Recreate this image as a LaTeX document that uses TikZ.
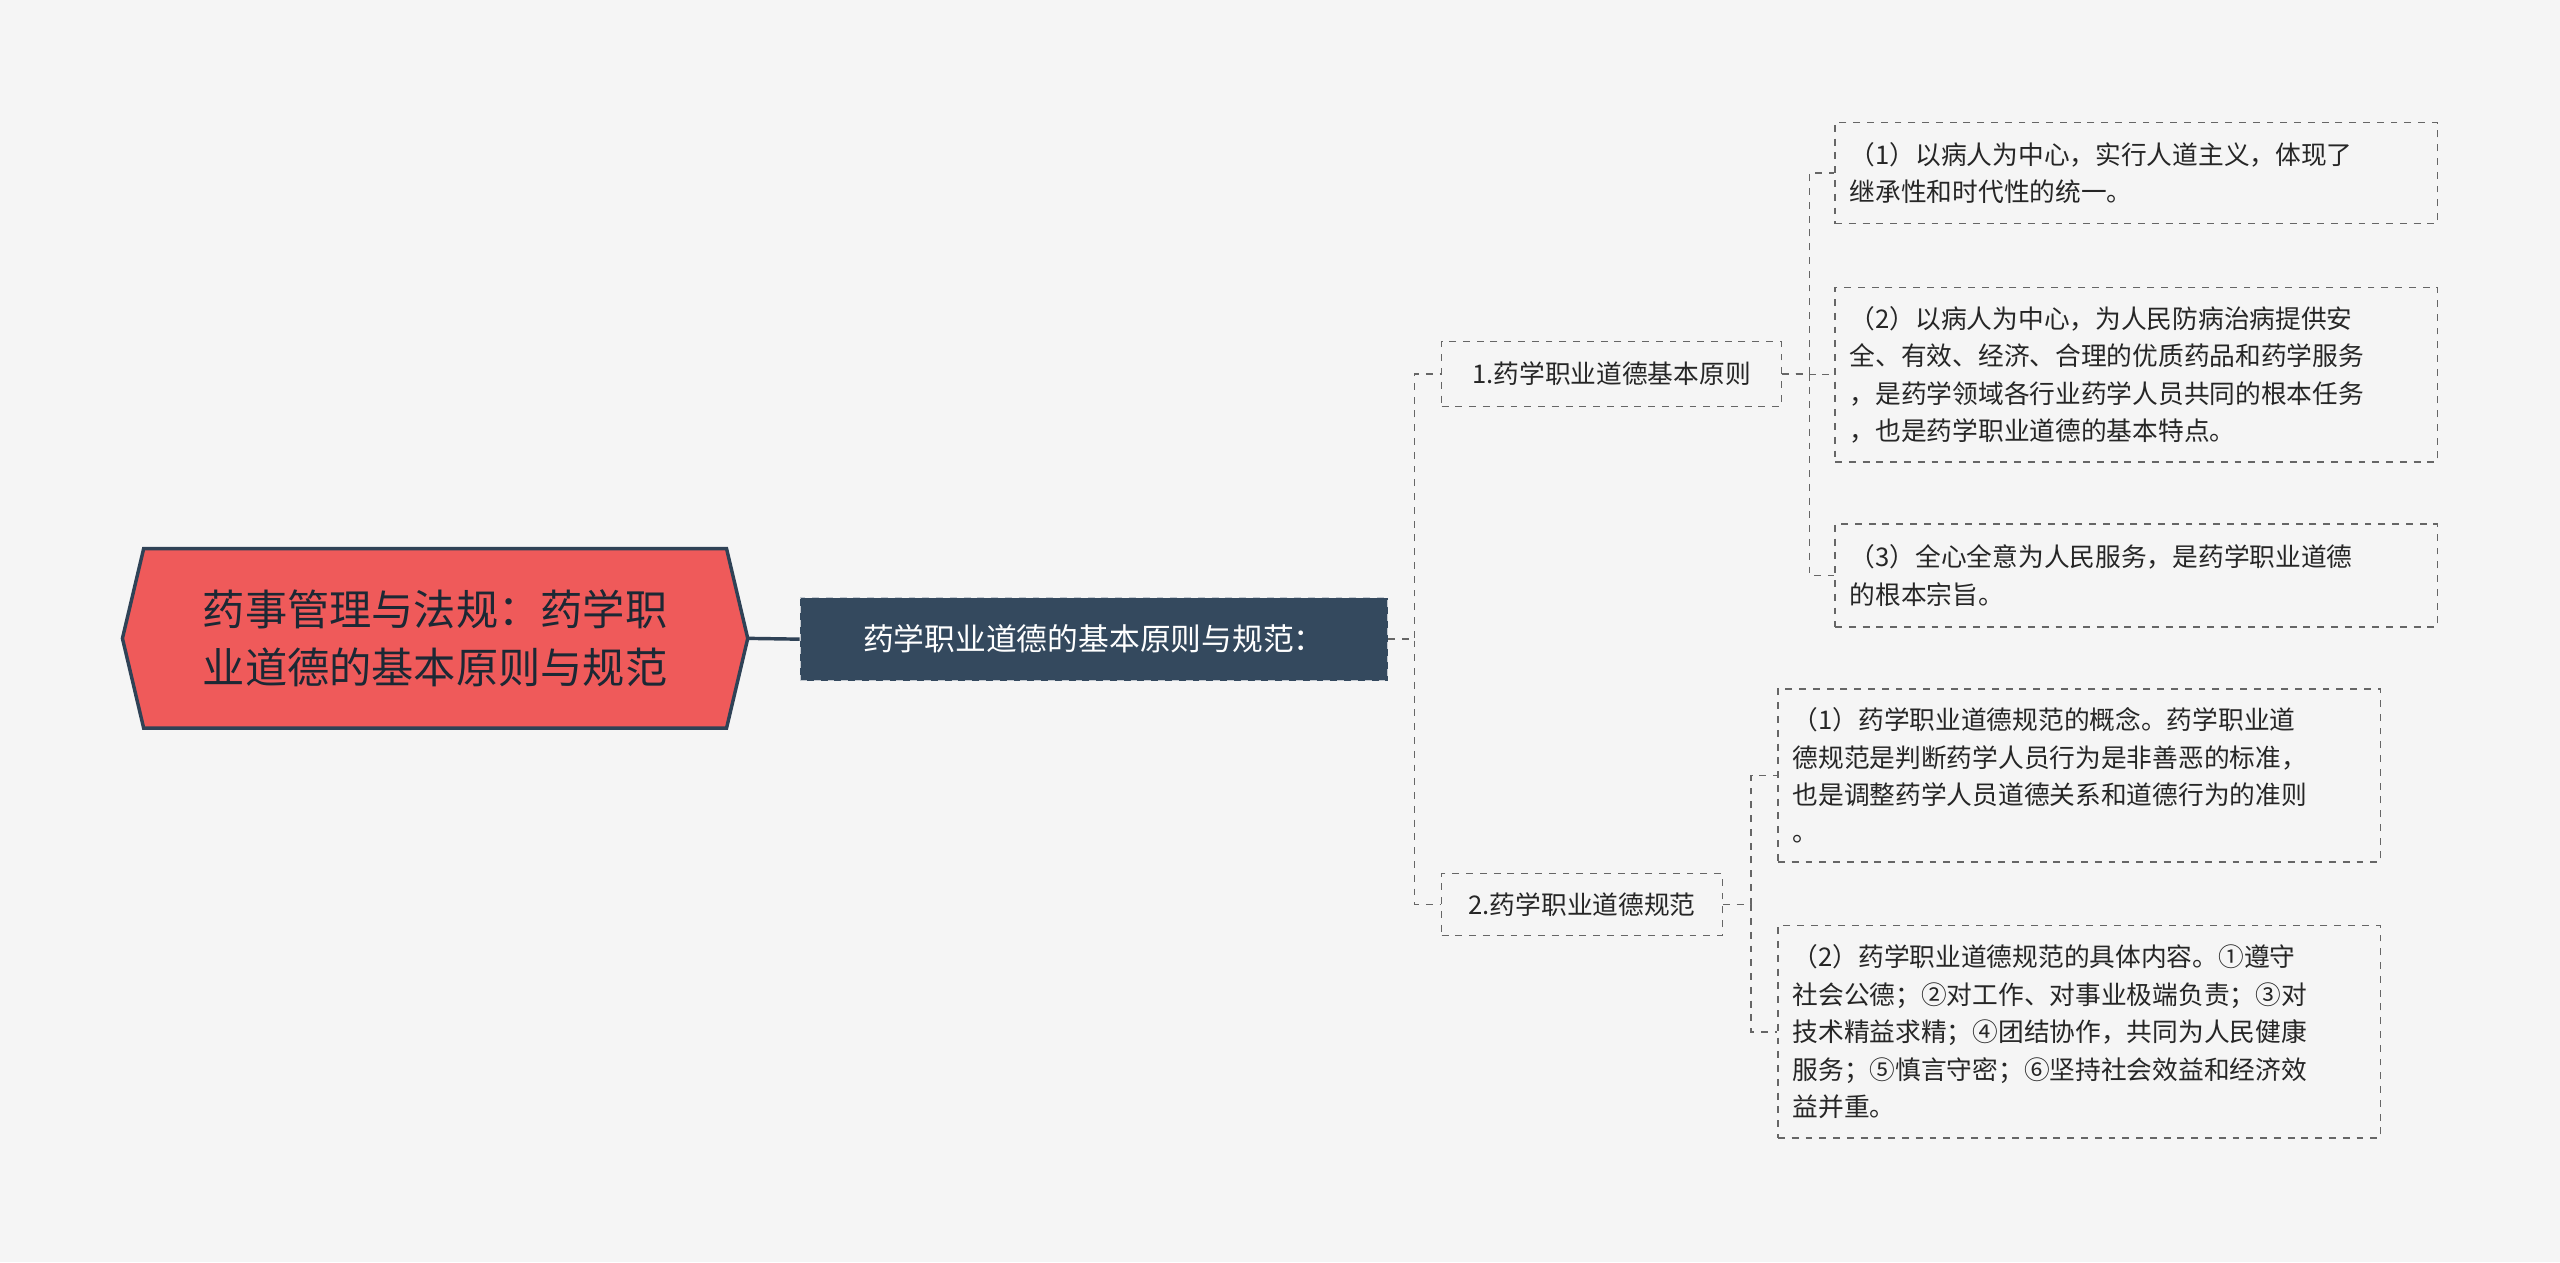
\documentclass[tikz,border=0pt]{standalone}
\usepackage{fontspec}
\setmainfont{Noto Sans CJK SC}
\definecolor{bg}{HTML}{F5F5F5}
\definecolor{rootred}{HTML}{EF5A5A}
\definecolor{navy}{HTML}{2F4256}
\definecolor{mainfill}{HTML}{34495E}
\definecolor{linegray}{HTML}{666666}
\begin{document}
\begin{tikzpicture}[x=0.025cm,y=-0.025cm,
  leaf/.style={draw=linegray,dashed,line width=0.6pt,fill=bg,minimum width=#1*0.025cm,text width=#1*0.025cm-0.45cm,align=left,inner sep=0pt,font=\fontsize{11.2}{16.3}\selectfont,text=black!85},
  branch/.style={draw=linegray,dashed,line width=0.6pt,fill=bg,inner sep=0pt,font=\fontsize{11.2}{14}\selectfont,text=black!85},
  conn/.style={draw=linegray,dashed,line width=0.6pt}]
\fill[bg] (0,0) rectangle (1568,773);
\useasboundingbox (0,0) rectangle (1568,773);
% root
\draw[fill=rootred,draw=navy,line width=1.5pt] (75,391)--(88,336)--(445,336)--(458,391)--(445,446)--(88,446)--cycle;
\node[align=center,font=\fontsize{18.4}{25.5}\selectfont,text=navy!60!black] (root) at (266.5,391) {药事管理与法规：药学职\\业道德的基本原则与规范};
\coordinate (rootE) at (458,391);
% main
\node[fill=mainfill,draw=white!70!mainfill,dashed,minimum width=360*0.025cm,minimum height=51*0.025cm,inner sep=0pt,text=white,font=\fontsize{13.4}{16}\selectfont] (main) at (670,391.5) {药学职业道德的基本原则与规范：};
\draw[navy,line width=1.5pt] (rootE) -- (main.west);
% branches
\node[branch,minimum width=208*0.025cm,minimum height=40*0.025cm] (b1) at (987,229) {1.药学职业道德基本原则};
\node[branch,minimum width=172*0.025cm,minimum height=38*0.025cm] (b2) at (969,554) {2.药学职业道德规范};
\draw[conn] (main.east) -- ++(16,0) |- (b1.west);
\draw[conn] (main.east) -- ++(16,0) |- (b2.west);
% leaves
\node[leaf=369,minimum height=62*0.025cm] (l1) at (1308.5,106) {（1）以病人为中心，实行人道主义，体现了\\继承性和时代性的统一。};
\node[leaf=369,minimum height=107*0.025cm] (l2) at (1308.5,229.5) {（2）以病人为中心，为人民防病治病提供安\\全、有效、经济、合理的优质药品和药学服务\\，是药学领域各行业药学人员共同的根本任务\\，也是药学职业道德的基本特点。};
\node[leaf=369,minimum height=63*0.025cm] (l3) at (1308.5,352.5) {（3）全心全意为人民服务，是药学职业道德\\的根本宗旨。};
\node[leaf=369,minimum height=106*0.025cm] (l4) at (1273.5,475) {（1）药学职业道德规范的概念。药学职业道\\德规范是判断药学人员行为是非善恶的标准，\\也是调整药学人员道德关系和道德行为的准则\\。};
\node[leaf=369,minimum height=130*0.025cm] (l5) at (1273.5,632) {（2）药学职业道德规范的具体内容。①遵守\\社会公德；②对工作、对事业极端负责；③对\\技术精益求精；④团结协作，共同为人民健康\\服务；⑤慎言守密；⑥坚持社会效益和经济效\\益并重。};
\foreach \l in {l1,l2,l3} \draw[conn] (b1.east) -- ++(17,0) |- (\l.west);
\foreach \l in {l4,l5} \draw[conn] (b2.east) -- ++(17,0) |- (\l.west);
\end{tikzpicture}
\end{document}
